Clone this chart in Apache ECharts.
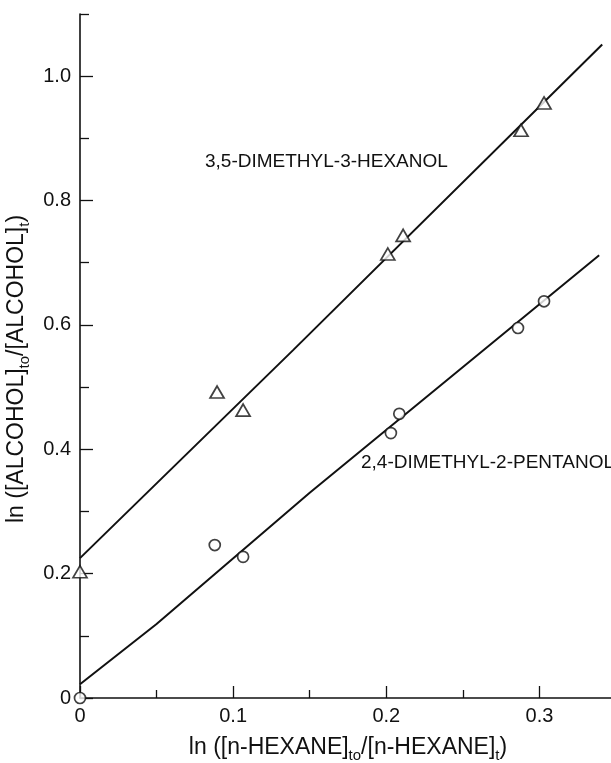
<!DOCTYPE html>
<html><head><meta charset="utf-8">
<script src="https://cdn.jsdelivr.net/npm/echarts@6/dist/echarts.min.js"></script>
<style>html,body{margin:0;padding:0;background:#fff}#c{width:611px;height:763px}</style>
</head><body><div id="c"></div>
<script>
// Data
const hexanolX = [0, 0.0895, 0.1065, 0.201, 0.211, 0.288, 0.303];
const hexanolY = [0.203, 0.492, 0.463, 0.714, 0.744, 0.913, 0.957];
const pentanolX = [0, 0.088, 0.1065, 0.203, 0.2085, 0.286, 0.303];
const pentanolY = [0, 0.246, 0.227, 0.426, 0.457, 0.595, 0.638];
const hexanolFitX = [0, 0.139, 0.341];
const hexanolFitY = [0.225, 0.559, 1.051];
const pentanolFitX = [0, 0.05, 0.15, 0.339];
const pentanolFitY = [0.022, 0.119, 0.33, 0.712];
const xMajorTicks = [0, 0.1, 0.2, 0.3];
const xMinorTicks = [0.05, 0.15, 0.25];
const xLabels = ['0', '0.1', '0.2', '0.3'];
const yMajorTicks = [0, 0.2, 0.4, 0.6, 0.8, 1.0];
const yMinorTicks = [0.1, 0.3, 0.5, 0.7, 0.9, 1.1];
const yLabels = ['0', '0.2', '0.4', '0.6', '0.8', '1.0'];
const seriesNames = ['3,5-DIMETHYL-3-HEXANOL', '2,4-DIMETHYL-2-PENTANOL'];

const FONT = '"Liberation Sans", Arial, sans-serif';
const INK = '#111';
const zip = (a, b) => a.map((v, i) => [v, b[i]]);
const labelFor = (ticks, labels) => v => {
  const i = ticks.findIndex(t => Math.abs(t - v) < 1e-9);
  return i >= 0 ? labels[i] : '';
};
const richTitle = {
  m: { fontSize: 23, fontFamily: FONT, color: INK, lineHeight: 25, verticalAlign: 'top' },
  s: { fontSize: 15, fontFamily: FONT, color: INK, lineHeight: 15, padding: [12, 0, 0, 0], verticalAlign: 'top' },
  e: { fontSize: 23, fontFamily: FONT, color: INK, lineHeight: 25, verticalAlign: 'top', padding: [0, 26, 0, 0] }
};

const chart = echarts.init(document.getElementById('c'), null, { renderer: 'canvas' });
chart.setOption({
  backgroundColor: '#fff',
  animation: false,
  grid: { left: 80, top: 14, right: -5, bottom: 65, outerBoundsMode: 'none', containLabel: false },
  xAxis: [{
    type: 'value', min: 0, max: 0.35, interval: 0.05,
    axisLine: { lineStyle: { color: INK, width: 1.6 } },
    axisTick: { inside: true, length: 12, customValues: xMajorTicks, lineStyle: { color: INK, width: 1.3 } },
    axisLabel: { customValues: xMajorTicks, formatter: labelFor(xMajorTicks, xLabels), fontSize: 20, fontFamily: FONT, color: INK, margin: 8 },
    splitLine: { show: false },
    name: '{m|ln ([n-HEXANE]}{s|to}{m|/[n-HEXANE]}{s|t}{m|)}',
    nameLocation: 'middle', nameGap: 38,
    nameTextStyle: { rich: richTitle }
  }, {
    type: 'value', min: 0, max: 0.35, interval: 0.05, position: 'bottom',
    axisLine: { show: false },
    axisTick: { inside: true, length: 8, customValues: xMinorTicks, lineStyle: { color: INK, width: 1.3 } },
    axisLabel: { show: false }, splitLine: { show: false }
  }],
  yAxis: [{
    type: 'value', min: 0, max: 1.1, interval: 0.1,
    axisLine: { lineStyle: { color: INK, width: 1.6 } },
    axisTick: { inside: true, length: 13, customValues: yMajorTicks, lineStyle: { color: INK, width: 1.3 } },
    axisLabel: { customValues: yMajorTicks, formatter: labelFor(yMajorTicks, yLabels), fontSize: 20, fontFamily: FONT, color: INK, margin: 9 },
    splitLine: { show: false },
    name: '{m|ln ([ALCOHOL]}{s|to}{m|/[ALCOHOL]}{s|t}{e|)}',
    nameLocation: 'middle', nameGap: 44,
    nameTextStyle: { rich: richTitle }
  }, {
    type: 'value', min: 0, max: 1.1, interval: 0.1, position: 'left',
    axisLine: { show: false },
    axisTick: { inside: true, length: 9, customValues: yMinorTicks, lineStyle: { color: INK, width: 1.3 } },
    axisLabel: { show: false }, splitLine: { show: false }
  }],
  graphic: [
    { type: 'text', left: 205, top: 152, silent: true,
      style: { text: seriesNames[0], fontSize: 19, fontFamily: FONT, fill: INK } },
    { type: 'text', x: 614, y: 463, silent: true,
      style: { text: seriesNames[1], fontSize: 19, fontFamily: FONT, fill: INK, align: 'right', verticalAlign: 'middle' } }
  ],
  series: [
    { name: seriesNames[0] + ' fit', type: 'line', data: zip(hexanolFitX, hexanolFitY), symbol: 'none',
      lineStyle: { color: INK, width: 2 }, clip: false, z: 2 },
    { name: seriesNames[1] + ' fit', type: 'line', data: zip(pentanolFitX, pentanolFitY), symbol: 'none',
      lineStyle: { color: INK, width: 2 }, clip: false, z: 2 },
    { name: seriesNames[0], type: 'scatter', data: zip(hexanolX, hexanolY), symbol: 'triangle', symbolSize: [14, 12],
      itemStyle: { color: '#fff', borderColor: INK, borderWidth: 1.7 }, clip: false, z: 3 },
    { name: seriesNames[1], type: 'scatter', data: zip(pentanolX, pentanolY), symbol: 'circle', symbolSize: 11,
      itemStyle: { color: '#fff', borderColor: INK, borderWidth: 1.7 }, clip: false, z: 3 }
  ]
});
</script>
</body></html>
